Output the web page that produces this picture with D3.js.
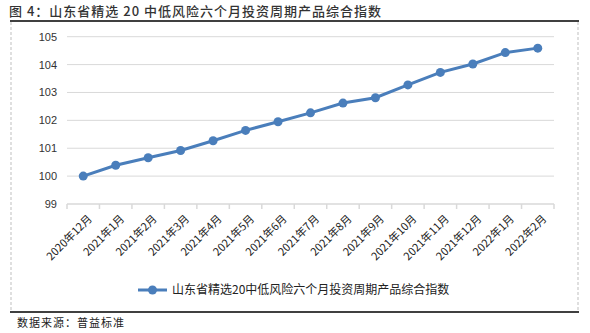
<!DOCTYPE html>
<html>
<head>
<meta charset="utf-8">
<script src="https://cdn.jsdelivr.net/npm/d3@7"></script>
<style>
  body { margin: 0; background: #fff; }
  text { font-family: "Noto Sans CJK SC", "Noto Sans", sans-serif; }
</style>
</head>
<body>
<div id="chart"></div>
<script>
const WIDTH = 590;
const HEIGHT = 333;

const MARGIN = {
  TOP: 36.7,
  LEFT: 67,
  RIGHT: 554,
  BOTTOM: 204,
};

const months = [
  "2020年12月", "2021年1月", "2021年2月", "2021年3月", "2021年4月",
  "2021年5月", "2021年6月", "2021年7月", "2021年8月", "2021年9月",
  "2021年10月", "2021年11月", "2021年12月", "2022年1月", "2022年2月",
];
const indexValues = [
  100.0, 100.39, 100.66, 100.92, 101.27, 101.64, 101.95, 102.27,
  102.62, 102.81, 103.27, 103.72, 104.02, 104.43, 104.59,
];
const yTicks = [99, 100, 101, 102, 103, 104, 105];
const seriesName = "山东省精选20中低风险六个月投资周期产品综合指数";
const title = "图 4：山东省精选 20 中低风险六个月投资周期产品综合指数";
const source = "数据来源：普益标准";

const BLUE = "#4a7ebb";

const svg = d3
  .select("#chart")
  .append("svg")
  .attr("width", WIDTH)
  .attr("height", HEIGHT);

// frame
svg.append("line")
  .attr("x1", 10).attr("x2", 579).attr("y1", 21).attr("y2", 21)
  .style("stroke", "#000").style("stroke-width", 1.5);
svg.append("line")
  .attr("x1", 10).attr("x2", 579).attr("y1", 312).attr("y2", 312)
  .style("stroke", "#000").style("stroke-width", 1.5);
[11, 578].forEach((x) => {
  svg.append("line")
    .attr("x1", x).attr("x2", x).attr("y1", 22).attr("y2", 311)
    .style("stroke", "#bfbfbf").style("stroke-dasharray", "3,2");
});

svg.append("text")
  .attr("x", 9)
  .attr("y", 16)
  .attr("font-size", "13px")
  .attr("font-weight", "500")
  .style("letter-spacing", "1px")
  .style("fill", "#333")
  .text(title);

svg.append("text")
  .attr("x", 17)
  .attr("y", 327)
  .attr("font-size", "11px")
  .style("letter-spacing", "1px")
  .style("fill", "#222")
  .text(source);

const x = d3
  .scaleBand()
  .domain(months)
  .range([MARGIN.LEFT, MARGIN.RIGHT]);
const y = d3
  .scaleLinear()
  .domain([99, 105])
  .range([MARGIN.BOTTOM, MARGIN.TOP]);

// gridlines
svg.append("g")
  .selectAll("line")
  .data(yTicks.filter((d) => d !== 99))
  .enter()
  .append("line")
  .attr("x1", MARGIN.LEFT)
  .attr("x2", MARGIN.RIGHT)
  .attr("y1", (d) => y(d))
  .attr("y2", (d) => y(d))
  .style("stroke", "#d9d9d9")
  .style("stroke-width", 1);

const yAxis = svg.append("g")
  .attr("transform", `translate(${MARGIN.LEFT}, 0)`)
  .call(d3.axisLeft(y).tickValues(yTicks).tickFormat(d3.format("d")).tickSize(0).tickPadding(10))
  .call((g) => {
    g.select(".domain").remove();
    g.selectAll("text").attr("font-size", "11px").style("fill", "#333")
      .style("font-family", "Arial, 'Liberation Sans', sans-serif");
  });

// x axis with ticks at band edges
const xAxis = svg.append("g")
  .attr("transform", `translate(0, ${MARGIN.BOTTOM})`);
xAxis.append("line")
  .attr("x1", MARGIN.LEFT).attr("x2", MARGIN.RIGHT)
  .style("stroke", "#d9d9d9").style("stroke-width", 1.5);
const edges = months.map((m) => x(m)).concat([x(months[months.length - 1]) + x.bandwidth()]);
xAxis.selectAll(".tick-mark")
  .data(edges)
  .enter()
  .append("line")
  .attr("x1", (d) => d).attr("x2", (d) => d)
  .attr("y1", 0).attr("y2", 5)
  .style("stroke", "#d9d9d9").style("stroke-width", 1.5);
xAxis.selectAll(".xlabel")
  .data(months)
  .enter()
  .append("text")
  .attr("transform", (d) => `translate(${x(d) + x.bandwidth() / 2 + 4}, 10) rotate(-45)`)
  .attr("text-anchor", "end")
  .attr("dy", "0.7em")
  .attr("font-size", "11px")
  .style("fill", "#222")
  .text((d) => d);

const data = months.map((m, i) => ({ month: m, value: indexValues[i] }));

const line = d3.line()
  .x((d) => x(d.month) + x.bandwidth() / 2)
  .y((d) => y(d.value));

svg.append("path")
  .datum(data)
  .attr("d", line)
  .style("fill", "none")
  .style("stroke", BLUE)
  .style("stroke-width", 3);

svg.append("g")
  .selectAll("circle")
  .data(data)
  .enter()
  .append("circle")
  .attr("cx", (d) => x(d.month) + x.bandwidth() / 2)
  .attr("cy", (d) => y(d.value))
  .attr("r", 4.5)
  .style("fill", BLUE);

// legend
const legend = svg.append("g").attr("transform", "translate(138, 290)");
legend.append("line")
  .attr("x1", 0).attr("x2", 29)
  .style("stroke", BLUE).style("stroke-width", 3);
legend.append("circle")
  .attr("cx", 14.5).attr("r", 4.5).style("fill", BLUE);
legend.append("text")
  .attr("x", 34)
  .attr("dy", "0.35em")
  .attr("font-size", "12px")
  .style("fill", "#222")
  .text(seriesName);
</script>
</body>
</html>
